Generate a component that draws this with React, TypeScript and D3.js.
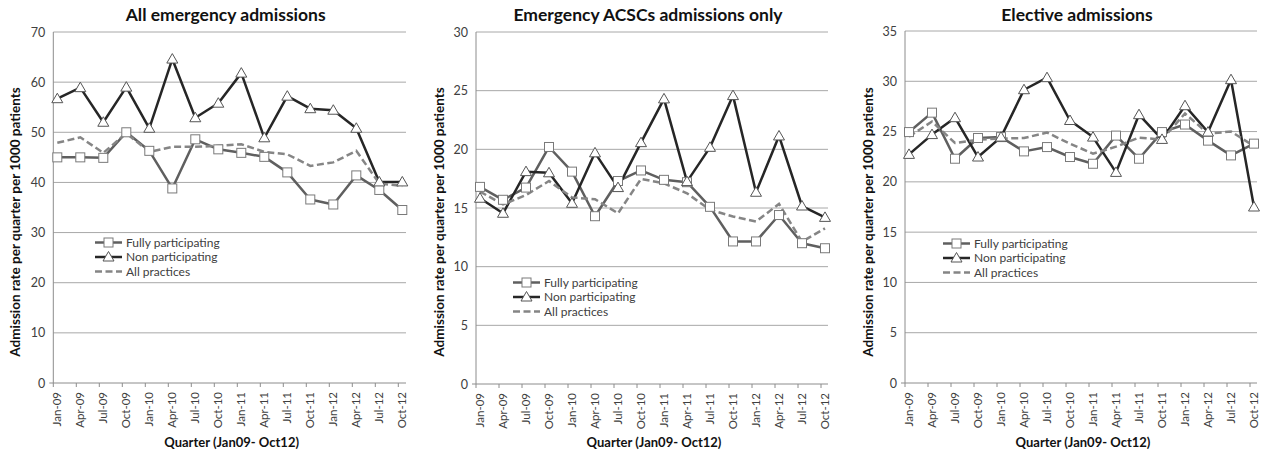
import React from "react";
import * as d3 from "d3";

const quarters = ["Jan-09","Apr-09","Jul-09","Oct-09","Jan-10","Apr-10","Jul-10","Oct-10","Jan-11","Apr-11","Jul-11","Oct-11","Jan-12","Apr-12","Jul-12","Oct-12"];

const seriesNames = ["Fully participating", "Non participating", "All practices"];

const emergencyFully = [45.0,45.0,44.9,50.0,46.3,38.8,48.6,46.6,45.9,45.1,42.0,36.6,35.6,41.4,38.5,34.5];
const emergencyNon = [56.7,58.9,52.0,59.0,50.8,64.6,52.9,55.8,61.8,48.9,57.2,54.7,54.4,50.8,40.1,40.1];
const emergencyAll = [47.9,49.0,45.9,49.8,46.1,47.1,47.1,47.3,47.6,46.1,45.6,43.3,44.0,46.3,39.8,39.3];

const acscFully = [16.8,15.7,16.74,20.2,18.1,14.3,17.3,18.2,17.4,17.2,15.1,12.15,12.15,14.4,12.0,11.57];
const acscNon = [15.83,14.55,18.1,18.0,15.4,19.7,16.74,20.57,24.3,17.25,20.17,24.58,16.34,21.14,15.17,14.2];
const acscAll = [16.4,15.3,16.1,17.3,15.9,15.75,14.55,17.48,17.1,16.25,14.85,14.27,13.84,15.35,12.13,13.27];

const electiveFully = [24.95,26.88,22.3,24.36,24.45,23.03,23.46,22.47,21.8,24.6,22.3,24.95,25.7,24.1,22.63,23.8];
const electiveNon = [22.73,24.7,26.38,22.47,24.45,29.16,30.36,26.1,24.45,20.94,26.68,24.22,27.57,24.95,30.16,17.5];
const electiveAll = [24.5,26.0,23.86,24.2,24.3,24.36,24.9,23.8,22.8,23.5,24.4,24.2,26.8,24.8,25.0,23.56];

const FONT = "Lato, 'Open Sans', sans-serif";
const C_FULL = "#5f5f5f";
const C_NON = "#262626";
const C_ALL = "#858585";
const C_TEXT = "#404040";

interface PanelProps {
  title: string;
  left: number;
  right: number;
  y0: number;
  yTop: number;
  yMax: number;
  step: number;
  full: number[];
  non: number[];
  all: number[];
  legendX: number;
  legendY: number;
  yTitleX: number;
}

function Triangle({ x, y }: { x: number; y: number }) {
  const p = d3.path();
  p.moveTo(x, y - 5.5);
  p.lineTo(x + 5.5, y + 4);
  p.lineTo(x - 5.5, y + 4);
  p.closePath();
  return <path d={p.toString()} fill="#fff" stroke="#555" strokeWidth={1} />;
}

function Square({ x, y }: { x: number; y: number }) {
  return <rect x={x - 4.5} y={y - 4.5} width={9} height={9} fill="#fff" stroke="#7a7a7a" strokeWidth={1} />;
}

function Panel(props: PanelProps) {
  const { title, left, right, y0, yTop, yMax, step, full, non, all, legendX, legendY, yTitleX } = props;
  const x = d3.scaleLinear().domain([0, quarters.length - 1]).range([left + 4, left + 4 + 23 * (quarters.length - 1)]);
  const y = d3.scaleLinear().domain([0, yMax]).range([y0, yTop]);
  const ticks = d3.range(0, yMax + 0.001, step);
  const line = d3.line<number>().x((_, i) => x(i)).y((d) => y(d));
  const pc = (left + right) / 2;
  return (
    <g>
      {ticks.map((t) => (
        <g key={t}>
          {t > 0 && <line x1={left} x2={right} y1={y(t)} y2={y(t)} stroke="#a8a8a8" strokeWidth={1} />}
          <text x={left - 8} y={y(t) + 4.5} textAnchor="end" fontSize={12.5} fill={C_TEXT} fontFamily={FONT}>{t}</text>
        </g>
      ))}
      <line x1={left} x2={left} y1={yTop} y2={y0} stroke="#8c8c8c" strokeWidth={1} />
      <line x1={left - 4} x2={right} y1={y0} y2={y0} stroke="#8c8c8c" strokeWidth={1} />
      {quarters.map((q, i) => (
        <g key={q}>
          <line x1={x(i) - 4} x2={x(i) - 4} y1={y0} y2={y0 + 4} stroke="#8c8c8c" strokeWidth={1} />
          <text transform={`translate(${x(i) + 4},${y0 + 9}) rotate(-90)`} textAnchor="end" fontSize={11.5} fill={C_TEXT} fontFamily={FONT}>{q}</text>
        </g>
      ))}
      <path d={line(full) || ""} fill="none" stroke={C_FULL} strokeWidth={2.5} strokeLinejoin="round" />
      <path d={line(non) || ""} fill="none" stroke={C_NON} strokeWidth={2.5} strokeLinejoin="round" />
      <path d={line(all) || ""} fill="none" stroke={C_ALL} strokeWidth={2.5} strokeDasharray="7,3.5" />
      {full.map((d, i) => <Square key={"s" + i} x={x(i)} y={y(d)} />)}
      {non.map((d, i) => <Triangle key={"t" + i} x={x(i)} y={y(d)} />)}
      <text x={pc - 4} y={21} textAnchor="middle" fontSize={17.5} fontWeight="bold" fill="#111" fontFamily={FONT}>{title}</text>
      <text x={pc + 2} y={447} textAnchor="middle" fontSize={13} fontWeight="bold" fill="#111" fontFamily={FONT}>Quarter (Jan09- Oct12)</text>
      <text transform={`translate(${yTitleX},${222}) rotate(-90)`} textAnchor="middle" fontSize={13.5} fontWeight="bold" fill="#111" fontFamily={FONT}>Admission rate per quarter per 1000 patients</text>
      {seriesNames.map((n, i) => {
        const ly = legendY + i * 14.5;
        return (
          <g key={n}>
            <line x1={legendX} x2={legendX + 27} y1={ly} y2={ly} stroke={[C_FULL, C_NON, C_ALL][i]} strokeWidth={2.5} strokeDasharray={i === 2 ? "7,3.5" : undefined} />
            {i === 0 && <Square x={legendX + 13.5} y={ly} />}
            {i === 1 && <Triangle x={legendX + 13.5} y={ly} />}
            <text x={legendX + 31} y={ly + 4} fontSize={12} fill={C_TEXT} fontFamily={FONT}>{n}</text>
          </g>
        );
      })}
    </g>
  );
}

export default function App() {
  return (
    <svg width={1261} height={454} style={{ position: "absolute", left: 0, top: 0, background: "#fff" }}>
      <rect width={1261} height={454} fill="#fff" />
      <Panel title="All emergency admissions" left={53.3} right={406} y0={383} yTop={32} yMax={70} step={10}
        full={emergencyFully} non={emergencyNon} all={emergencyAll} legendX={95} legendY={242.5} yTitleX={20} />
      <Panel title="Emergency ACSCs admissions only" left={476} right={828} y0={384} yTop={32} yMax={30} step={5}
        full={acscFully} non={acscNon} all={acscAll} legendX={513} legendY={282.5} yTitleX={444} />
      <Panel title="Elective admissions" left={905} right={1257} y0={383} yTop={31} yMax={35} step={5}
        full={electiveFully} non={electiveNon} all={electiveAll} legendX={943} legendY={243.5} yTitleX={873} />
    </svg>
  );
}
